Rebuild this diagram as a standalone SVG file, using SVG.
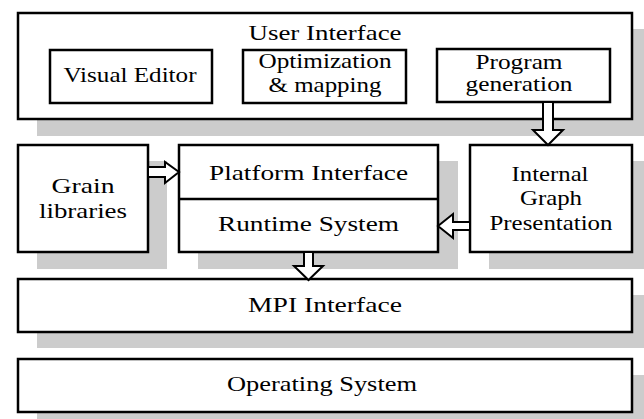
<svg xmlns="http://www.w3.org/2000/svg" width="644" height="419" viewBox="0 0 644 419">
<style>
.sh{fill:#cccccc;stroke:none}
.bx{fill:#ffffff;stroke:#000000;stroke-width:2.5}
.ln{stroke:#000000;stroke-width:2.5}
.ar{fill:#ffffff;stroke:#000000;stroke-width:2;stroke-linejoin:miter}
.t{font-family:'Liberation Serif','Times New Roman',Times,serif;font-size:21px;fill:#000000;text-anchor:middle}
</style>
<rect width="644" height="419" fill="#ffffff"/>
<g id="user-interface">
<rect class="sh" x="37" y="29" width="620" height="107"/>
<rect class="bx" x="18" y="13" width="614" height="106"/>
<text class="t" x="325" y="40" textLength="153" lengthAdjust="spacingAndGlyphs">User Interface</text>
</g>
<g id="visual-editor">
<rect class="bx" x="50" y="50" width="162" height="53"/>
<text class="t" x="130" y="82" textLength="133" lengthAdjust="spacingAndGlyphs">Visual Editor</text>
</g>
<g id="optimization-mapping">
<rect class="bx" x="243" y="50" width="163" height="53"/>
<text class="t" x="325" y="68" textLength="133" lengthAdjust="spacingAndGlyphs">Optimization</text>
<text class="t" x="325" y="92" textLength="113" lengthAdjust="spacingAndGlyphs">&amp; mapping</text>
</g>
<g id="program-generation">
<rect class="bx" x="437" y="49" width="173" height="53"/>
<text class="t" x="519" y="69" textLength="87" lengthAdjust="spacingAndGlyphs">Program</text>
<text class="t" x="519" y="91" textLength="107" lengthAdjust="spacingAndGlyphs">generation</text>
</g>
<g id="grain-libraries">
<rect class="sh" x="37" y="161" width="130" height="108"/>
<rect class="bx" x="18" y="145" width="130" height="107"/>
<text class="t" x="83" y="193" textLength="63" lengthAdjust="spacingAndGlyphs">Grain</text>
<text class="t" x="83" y="218" textLength="88" lengthAdjust="spacingAndGlyphs">libraries</text>
</g>
<g id="platform-runtime">
<rect class="sh" x="198" y="161" width="260" height="108"/>
<rect class="bx" x="179" y="145" width="259" height="107"/>
<line class="ln" x1="179" y1="199" x2="438" y2="199"/>
<text class="t" x="308.5" y="180" textLength="199" lengthAdjust="spacingAndGlyphs">Platform Interface</text>
<text class="t" x="308.5" y="231" textLength="181" lengthAdjust="spacingAndGlyphs">Runtime System</text>
</g>
<g id="internal-graph">
<rect class="sh" x="489" y="161" width="170" height="108"/>
<rect class="bx" x="470" y="145" width="162" height="107"/>
<text class="t" x="550" y="181" textLength="77" lengthAdjust="spacingAndGlyphs">Internal</text>
<text class="t" x="551" y="205" textLength="62" lengthAdjust="spacingAndGlyphs">Graph</text>
<text class="t" x="551" y="230" textLength="123" lengthAdjust="spacingAndGlyphs">Presentation</text>
</g>
<g id="mpi-interface">
<rect class="sh" x="37" y="295" width="620" height="53"/>
<rect class="bx" x="18" y="279" width="614" height="53"/>
<text class="t" x="325" y="312" textLength="154" lengthAdjust="spacingAndGlyphs">MPI Interface</text>
</g>
<g id="operating-system">
<rect class="sh" x="37" y="375" width="620" height="53"/>
<rect class="bx" x="18" y="359" width="614" height="53"/>
<text class="t" x="322" y="391" textLength="190" lengthAdjust="spacingAndGlyphs">Operating System</text>
</g>
<g id="connectors">
<path class="ar" d="M543,102 L553,102 L553,130 L563,130 L548,145 L533,130 L543,130 Z"/>
<path class="ar" d="M148,167 L165,167 L165,162 L179,172 L165,183 L165,177 L148,177 Z"/>
<path class="ar" d="M470,222 L453,222 L453,214 L438,226 L453,238 L453,230 L470,230 Z"/>
<path class="ar" d="M304,252 L313,252 L313,266 L323,266 L308.5,280 L294,266 L304,266 Z"/>
</g>
</svg>
